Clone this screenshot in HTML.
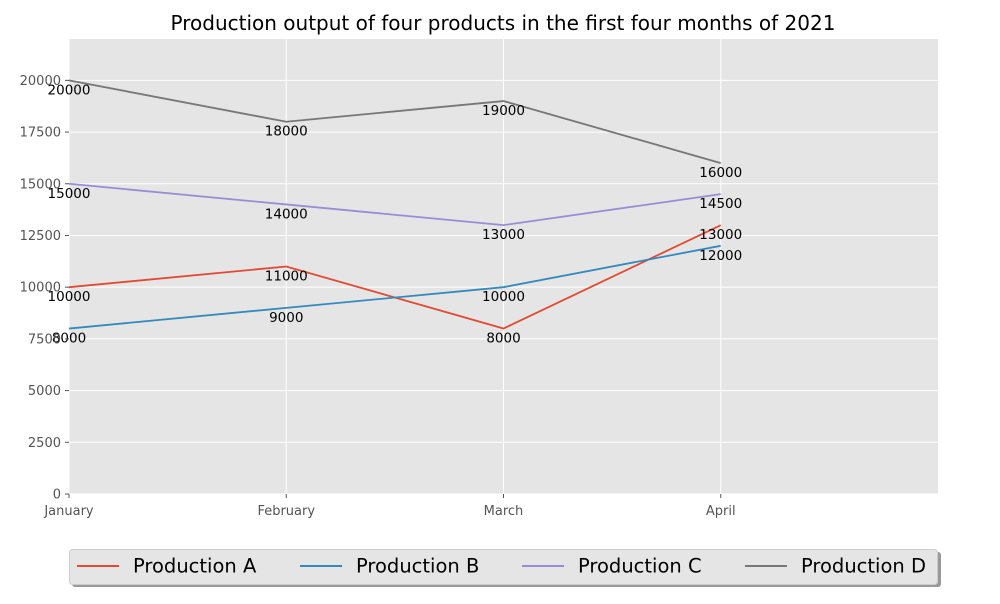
<!DOCTYPE html>
<html><head><meta charset="utf-8"><style>
body{margin:0;background:#fff;font-family:"DejaVu Sans","Liberation Sans",sans-serif}
svg text{font-family:"DejaVu Sans","Liberation Sans",sans-serif}
</style></head><body>
<svg id="chart" width="1000" height="600" xmlns="http://www.w3.org/2000/svg">
<rect width="1000" height="600" fill="#fff"/>
<text x="503" y="30" text-anchor="middle" font-size="20" fill="#000">Production output of four products in the first four months of 2021</text>
<rect x="69" y="39" width="869" height="455" fill="#e5e5e5"/>
<g id="grid"></g><g id="series"></g><g id="axes"></g>
<g>
<rect x="72" y="552" width="869" height="35" rx="3" fill="#999"/>
<rect x="69.5" y="549.5" width="868" height="35" rx="3" fill="#e5e5e5" stroke="#ccc"/>
<g id="legend-items"></g>
</g>
</svg>
<script>
const months=["January","February","March","April"];
const seriesNames=["Production A","Production B","Production C","Production D"];
const prodA=[10000,11000,8000,13000];
const prodB=[8000,9000,10000,12000];
const prodC=[15000,14000,13000,14500];
const prodD=[20000,18000,19000,16000];
const yTicks=[0,2500,5000,7500,10000,12500,15000,17500,20000];
const colors=["#e24a33","#348abd","#988ed5","#777777"];
const NS="http://www.w3.org/2000/svg";
const L=69,R=938,T=39,B=494,XMAX=4,YMAX=22000;
const xs=i=>L+i*(R-L)/XMAX, ys=v=>B-v*(B-T)/YMAX;
function mk(t,a,p){const e=document.createElementNS(NS,t);for(const k in a)e.setAttribute(k,a[k]);p.appendChild(e);return e;}
const grid=document.getElementById('grid'),axes=document.getElementById('axes'),ser=document.getElementById('series');
yTicks.forEach(v=>{
 const g=mk('line',{x1:L,x2:R,y1:ys(v),y2:ys(v),stroke:'#fff','stroke-width':1},grid);
 
 
 mk('line',{x1:L-4,x2:L,y1:ys(v),y2:ys(v),stroke:'#555'},axes);
 const t=mk('text',{x:L-8,y:ys(v)+4.5,'text-anchor':'end','font-size':13,fill:'#555'},axes);t.textContent=v;
 
 
});
months.forEach((m,i)=>{
 const g=mk('line',{x1:xs(i),x2:xs(i),y1:T,y2:B,stroke:'#fff'},grid);
 
 
 mk('line',{x1:xs(i),x2:xs(i),y1:B,y2:B+4,stroke:'#555'},axes);
 const t=mk('text',{x:xs(i),y:B+21,'text-anchor':'middle','font-size':13,fill:'#555'},axes);t.textContent=m;
 
 
});
[prodA,prodB,prodC,prodD].forEach((d,s)=>{
 const p=mk('polyline',{points:d.map((v,i)=>xs(i)+','+ys(v)).join(' '),fill:'none',stroke:colors[s],'stroke-width':1.8},ser);
 
 
 d.forEach((v,i)=>{
  const t=mk('text',{x:xs(i),y:ys(v)+14,'text-anchor':'middle','font-size':13.5,fill:'#000'},ser);t.textContent=v;
  
  
 });
});
const li=document.getElementById('legend-items');
const lx=[77,300,522,745];
seriesNames.forEach((n,s)=>{
 const g=mk('g',{},li);
 
 
 mk('line',{x1:lx[s],x2:lx[s]+42,y1:566,y2:566,stroke:colors[s],'stroke-width':2},g);
 const t=mk('text',{x:lx[s]+56,y:572.5,'font-size':19.5,fill:'#000'},g);t.textContent=n;
});
</script>
</body></html>
